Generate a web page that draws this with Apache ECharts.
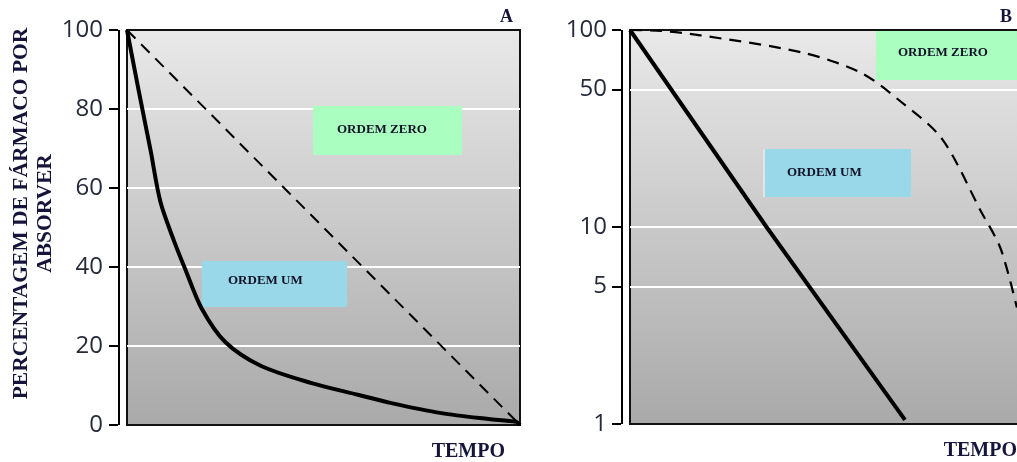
<!DOCTYPE html>
<html>
<head>
<meta charset="utf-8">
<script src="https://cdn.jsdelivr.net/npm/echarts@6/dist/echarts.min.js"></script>
<style>
  html, body { margin: 0; padding: 0; background: #ffffff; }
  #chart { width: 1017px; height: 462px; }
</style>
</head>
<body>
<div id="chart"></div>
<script>
// Panel captions, axis titles and annotation labels
const panelLabels = ['A', 'B'];
const yAxisTitle = 'PERCENTAGEM DE FÁRMACO POR\nABSORVER';
const timeTitle = 'TEMPO';
const orderLabels = ['ORDEM ZERO', 'ORDEM UM'];

// Tick values: linear percentage (A) and logarithmic percentage (B)
const ticksA = [0, 20, 40, 60, 80, 100];
const ticksB = [1, 5, 10, 50, 100];

// Panel A – linear scale
const firstOrderTimeA = [0, 0.3, 0.6, 0.85, 1.2, 1.5, 1.9, 2.5, 3.4, 4.7, 5.9, 6.7, 8.0, 9.2, 9.9, 10];
const firstOrderPctA  = [100, 84.5, 69.5, 56.5, 46.5, 39, 29.5, 21, 15, 10.6, 7.6, 5.6, 3.0, 1.5, 0.8, 0];
const zeroOrderTimeA  = [0, 10];
const zeroOrderPctA   = [100, 0];

// Panel B – logarithmic scale
const firstOrderTimeB = [0, 3.5, 7.05];
const firstOrderPctB  = [100, 10, 1.05];
const zeroOrderTimeB  = [0, 0.8, 1.8, 4.4, 5.9, 6.9, 8.0, 9.0, 9.5, 9.92];
const zeroOrderPctB   = [100, 99, 94, 77, 61, 44, 28, 12, 7.8, 3.9];

const pairs = (xs, ys) => xs.map((x, i) => [x, ys[i]]);

const serifBold = '"Liberation Serif", "Times New Roman", serif';
const inkColor = '#15153c';
const tickFont = { fontFamily: '"Open Sans", sans-serif', fontSize: 24, color: '#262b3c' };

const plotFill = () => new echarts.graphic.LinearGradient(0, 0, 0, 1, [
  { offset: 0, color: '#e9e9e9' },
  { offset: 1, color: '#a9a9a9' }
]);

// Grids 0/1: framed plot areas.
// Grids 2/3: thin black strips left of each frame acting as the detached
// percentage axis line; their y axes carry the ticks and labels.
const plotGrid = (left, width, height) => ({
  left, top: 30, width, height, show: true,
  backgroundColor: plotFill(), borderColor: '#111111', borderWidth: 2,
  outerBoundsMode: 'none'
});
const axisGrid = (left, height) => ({
  left, top: 30, width: 2, height, show: true,
  backgroundColor: '#000000', borderWidth: 0, outerBoundsMode: 'none'
});

const hiddenX = (gridIndex) => ({
  gridIndex, type: 'value', min: 0, max: 10,
  axisLine: { show: false, onZero: false }, axisTick: { show: false },
  axisLabel: { show: false }, splitLine: { show: false }
});

const timeX = (gridIndex, gap) => Object.assign(hiddenX(gridIndex), {
  name: timeTitle, nameLocation: 'end', nameGap: gap,
  nameTextStyle: {
    align: 'right', verticalAlign: 'top', padding: [17, 0, 0, 0],
    fontFamily: serifBold, fontWeight: 'bold', fontSize: 20, color: inkColor
  }
});

// Scale used by the plot grid: only white guide lines
const guideY = (gridIndex, scale, custom) => Object.assign({
  gridIndex,
  axisLine: { show: false, onZero: false },
  axisTick: Object.assign({ show: false }, custom ? { customValues: custom } : {}),
  axisLabel: { show: false },
  splitLine: { show: true, showMinLine: false, showMaxLine: false, lineStyle: { color: '#ffffff', width: 2 } }
}, scale);

// Same scale drawn with outward ticks and labels
const labelledY = (gridIndex, scale, custom, margin) => Object.assign({
  gridIndex,
  axisLine: { show: false, onZero: false },
  axisTick: Object.assign({ show: true, inside: false, length: 9, lineStyle: { color: '#000000', width: 2 } },
    custom ? { customValues: custom } : {}),
  axisLabel: Object.assign({ show: true, margin }, tickFont, custom ? { customValues: custom } : {}),
  splitLine: { show: false }
}, scale);

const scaleA = { type: 'value', min: ticksA[0], max: ticksA[ticksA.length - 1], interval: 20 };
const scaleB = { type: 'log', logBase: 10, min: ticksB[0], max: ticksB[ticksB.length - 1] };

const solid = { color: '#000', width: 4 };
const dashed = { color: '#000', width: 2, type: [12, 8] };

function lineSeries(idx, data, style) {
  return {
    type: 'line', xAxisIndex: idx, yAxisIndex: idx,
    data, symbol: 'none', smooth: data.length > 3 ? 0.3 : false,
    lineStyle: style, z: 5, silent: true
  };
}

function box(x, y, w, h, fill, label, tx, ty) {
  return [
    { type: 'rect', shape: { x, y, width: w, height: h }, style: { fill }, z: 3, silent: true },
    { type: 'text', x: tx, y: ty, z: 4, silent: true,
      style: { text: label, fill: '#111128', font: 'bold 13px ' + serifBold, verticalAlign: 'middle' } }
  ];
}

const chart = echarts.init(document.getElementById('chart'), null, { renderer: 'canvas' });

chart.setOption({
  animation: false,
  backgroundColor: '#ffffff',
  title: panelLabels.map((t, i) => ({
    text: t, left: i === 0 ? 500 : 1000, top: 8, padding: 0,
    textStyle: { fontFamily: serifBold, fontWeight: 'bold', fontSize: 18, color: inkColor }
  })),
  grid: [
    plotGrid(127, 393, 395),
    plotGrid(630, 390, 394),
    axisGrid(118, 395),
    axisGrid(621, 394)
  ],
  xAxis: [timeX(0, -15), timeX(1, -3), hiddenX(2), hiddenX(3)],
  yAxis: [
    guideY(0, scaleA, null),
    guideY(1, scaleB, ticksB),
    Object.assign(labelledY(2, scaleA, null, 15), {
      name: yAxisTitle, nameLocation: 'middle', nameRotate: 90, nameGap: 61,
      nameTextStyle: {
        fontFamily: serifBold, fontWeight: 'bold', fontSize: 21.5, lineHeight: 24,
        color: inkColor, padding: [0, 0, 0, 28]
      }
    }),
    labelledY(3, scaleB, ticksB, 14)
  ],
  series: [
    lineSeries(0, pairs(zeroOrderTimeA, zeroOrderPctA), dashed),
    lineSeries(0, pairs(firstOrderTimeA, firstOrderPctA), solid),
    lineSeries(1, pairs(zeroOrderTimeB, zeroOrderPctB), Object.assign({}, dashed, { width: 2.2 })),
    lineSeries(1, pairs(firstOrderTimeB, firstOrderPctB), solid)
  ],
  graphic: {
    elements: [].concat(
      box(313, 106, 149, 49, '#aaffc0', orderLabels[0], 337, 130),
      box(202, 261, 145, 46, '#99d8e8', orderLabels[1], 228, 281),
      box(876, 31, 146, 49, '#aaffc0', orderLabels[0], 898, 53),
      box(764, 149, 147, 48, '#99d8e8', orderLabels[1], 787, 173),
      [{ type: 'rect', shape: { x: 763, y: 149, width: 2, height: 48 }, style: { fill: '#e4e4e4' }, z: 4, silent: true }]
    )
  }
});
</script>
</body>
</html>
